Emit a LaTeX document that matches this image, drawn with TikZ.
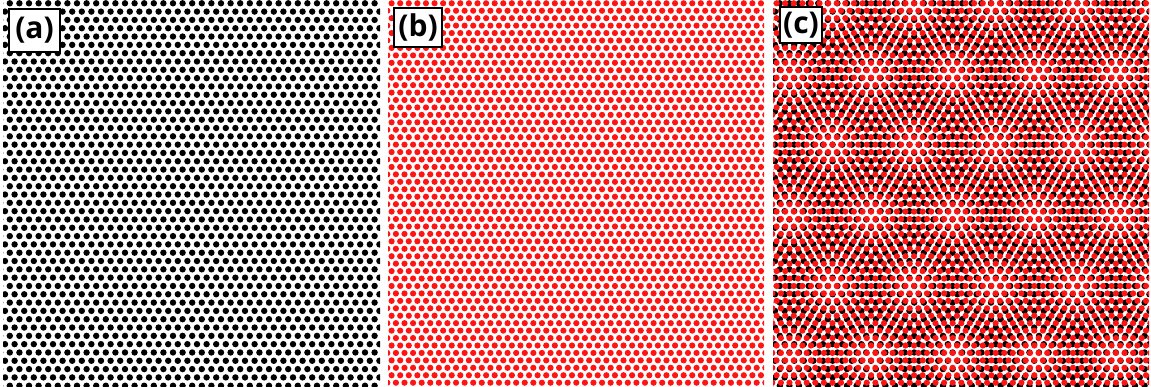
\documentclass[tikz,border=0pt]{standalone}
\usepackage{fontspec}
\setsansfont{Open Sans}
\usetikzlibrary{positioning}
\definecolor{dotred}{RGB}{255,20,20}
\tikzstyle{tag}=[rectangle, draw=black, line width=2pt, fill=white, inner sep=1pt,
text centered, font=\sffamily\bfseries\fontsize{30}{30}\selectfont]
% hexagonal dot lattice: left edge, spacing, radius, colour
\newcommand{\hexdots}[4]{%
  \pgfmathsetmacro{\hrow}{#2*0.8660254}
  \pgfmathtruncatemacro{\nrow}{387/\hrow+1}
  \pgfmathtruncatemacro{\ncol}{380/#2+1}
  \foreach \j in {0,...,\nrow}{
    \pgfmathsetmacro{\yrow}{383.7-\j*\hrow}
    \pgfmathsetmacro{\xrow}{#1+6.8-mod(\j,2)*#2/2}
    \fill[#4] \foreach \i in {-1,...,\ncol}{
        ({\xrow+\i*#2},\yrow) circle[radius=#3]
      };
  }
}

\begin{document}
\begin{tikzpicture}[x=1pt,y=1pt]
    \fill[white] (0,0) rectangle (1151,387);
    \useasboundingbox (0,0) rectangle (1151,387);

    % (a) black lattice
    \begin{scope}
        \clip (3,0) rectangle (380,386);
        \hexdots{3}{9.6}{3.2}{black}
    \end{scope}
    % (b) red lattice
    \begin{scope}
        \clip (388,0) rectangle (764,386);
        \hexdots{384.8}{8.59}{3.1}{dotred}
    \end{scope}
    % (c) both lattices on top of each other
    \begin{scope}
        \clip (773,0) rectangle (1149,386);
        \hexdots{773}{9.6}{3.2}{black}
        \hexdots{769.8}{8.59}{3.1}{dotred}
    \end{scope}

    \node (a)[tag, minimum width=51pt, minimum height=43pt] at (34.5,356.5) {(a)};
    \node (b)[tag, minimum width=48pt, minimum height=39pt] at (418,359.5) {(b)};
    \node (c)[tag, minimum width=42pt, minimum height=36pt] at (801,362) {(c)};
\end{tikzpicture}
\end{document}
